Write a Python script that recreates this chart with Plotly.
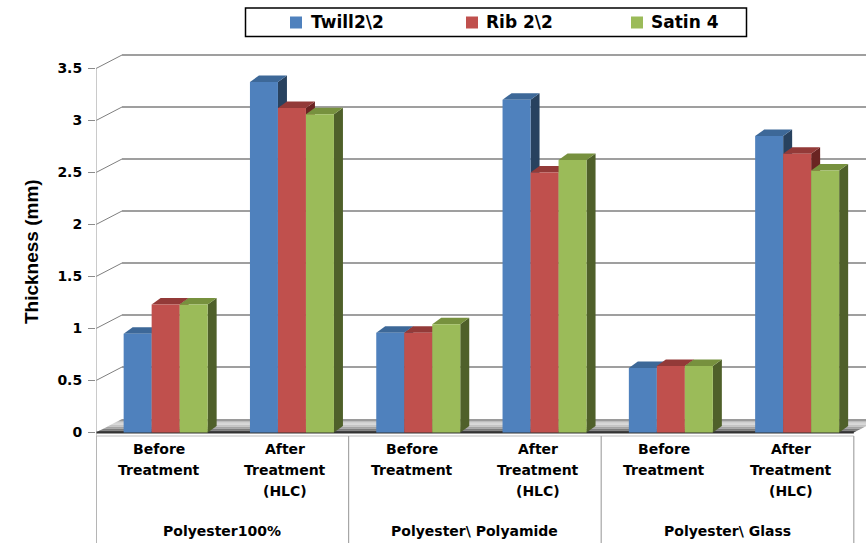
import plotly.graph_objects as go

# ---- data -------------------------------------------------------------
categories = ["Before\nTreatment", "After\nTreatment\n(HLC)"] * 3
groups = ["Polyester100%", "Polyester\\ Polyamide", "Polyester\\ Glass"]
series_names = ["Twill2\\2", "Rib 2\\2", "Satin 4"]
twill = [0.95, 3.37, 0.96, 3.20, 0.62, 2.85]
rib = [1.23, 3.12, 0.96, 2.50, 0.64, 2.68]
satin = [1.23, 3.06, 1.04, 2.62, 0.64, 2.52]
y_ticks = [0, 0.5, 1, 1.5, 2, 2.5, 3, 3.5]

# ---- styling ----------------------------------------------------------
front_cols = ["#4F81BD", "#C0504D", "#9BBB59"]
top_cols = ["#3D6898", "#933A38", "#77913E"]
side_cols = ["#28425F", "#6A2422", "#4F602A"]

W_PX, H_PX = 866, 543
LEFT = 96              # pixel position of the front value axis
BASE_PX = 432.5        # pixel row of value 0
XS = 126.3             # pixels per category slot
YS = 104.0             # pixels per value unit

def dx(px):
    return px / XS

def dy(px):
    return px / YS

def paper_x(px):
    return (px - LEFT) / (W_PX - LEFT)

def paper_y(py):
    return 1 - py / H_PX

WALL_DX, WALL_DY = dx(26), dy(13.5)     # depth of the chart box
BAR_DX, BAR_DY = dx(9), dy(6.5)         # depth of each column
BAR_W = dx(28)
SHIFT = dx(6.5)

x_lo = -0.5
x_hi = x_lo + (W_PX - LEFT) / XS
y_lo = (BASE_PX - H_PX) / YS
y_hi = BASE_PX / YS
n_cat = len(categories)

fig = go.Figure()
shapes = []

def poly(points, fill, line_color=None, width=0):
    path = "M " + " L ".join(f"{x:.5f},{y:.5f}" for x, y in points) + " Z"
    return dict(type="path", path=path, xref="x", yref="y",
                fillcolor=fill, line=dict(color=line_color or fill, width=width),
                layer="below")

def seg(x0, y0, x1, y1, color, width):
    return dict(type="line", x0=x0, y0=y0, x1=x1, y1=y1, xref="x", yref="y",
                line=dict(color=color, width=width), layer="below")

# back wall grid lines and the slanted side-wall lines
for v in y_ticks[1:]:
    shapes.append(seg(x_lo + WALL_DX, v + WALL_DY, x_hi, v + WALL_DY, "#7f7f7f", 1.5))
    shapes.append(seg(x_lo, v, x_lo + WALL_DX, v + WALL_DY, "#7f7f7f", 1))

# floor, shaded in bands from back to front
floor_cols = ["#9a9a9a", "#bdbdbd", "#d6d6d6", "#c4c4c4", "#a4a4a4", "#7c7c7c", "#505050"]
nb = len(floor_cols)
x_end = x_lo + n_cat
for j, c in enumerate(floor_cols):
    f0 = 1 - j / nb
    f1 = 1 - (j + 1) / nb
    shapes.append(poly([(x_lo + f0 * WALL_DX, f0 * WALL_DY), (x_end + f0 * WALL_DX, f0 * WALL_DY),
                        (x_end + f1 * WALL_DX, f1 * WALL_DY), (x_lo + f1 * WALL_DX, f1 * WALL_DY)], c))
shapes.append(seg(x_lo, 0, x_end, 0, "#333333", 2))

# column tops and right-hand faces
series = [twill, rib, satin]
for i in range(n_cat):
    for k, vals in enumerate(series):
        h = vals[i]
        xc = i + SHIFT + (k - 1) * BAR_W
        xl, xr = xc - BAR_W / 2, xc + BAR_W / 2
        shapes.append(poly([(xr, 0), (xr, h), (xr + BAR_DX, h + BAR_DY), (xr + BAR_DX, BAR_DY)], side_cols[k]))
        shapes.append(poly([(xl, h), (xr, h), (xr + BAR_DX, h + BAR_DY), (xl + BAR_DX, h + BAR_DY)], top_cols[k]))

# value axis line and category axis box
axis_col = "#a6a6a6"
cat_line = dy(BASE_PX - 436)
shapes.append(seg(x_lo, y_ticks[-1], x_lo, y_lo, axis_col, 1.2))
shapes.append(seg(x_lo, cat_line, x_end, cat_line, "#bfbfbf", 1.2))
for g in range(len(groups) + 1):
    xg = x_lo + 2 * g
    shapes.append(seg(xg, cat_line, xg, y_lo, axis_col, 1.2))

# column front faces
for k, (name, vals) in enumerate(zip(series_names, series)):
    fig.add_trace(go.Bar(
        name=name,
        x=[i + SHIFT + (k - 1) * BAR_W for i in range(n_cat)],
        y=vals,
        width=BAR_W,
        marker=dict(color=front_cols[k], line=dict(width=0)),
        hoverinfo="skip",
        showlegend=False,
    ))

# legend box with colour keys
annotations = []
shapes.append(dict(type="rect", xref="paper", yref="paper",
                   x0=paper_x(245.5), x1=paper_x(746.5), y0=paper_y(8), y1=paper_y(36.5),
                   line=dict(color="black", width=1.5), fillcolor="white", layer="above"))
legend_key_px = [290, 466, 631]
legend_text_px = [309, 484, 649]
for k, name in enumerate(series_names):
    shapes.append(dict(type="rect", xref="paper", yref="paper",
                       x0=paper_x(legend_key_px[k]), x1=paper_x(legend_key_px[k] + 12),
                       y0=paper_y(16.5), y1=paper_y(28.5),
                       line=dict(width=0), fillcolor=front_cols[k], layer="above"))
    annotations.append(dict(x=paper_x(legend_text_px[k]), y=paper_y(22.5), xref="paper", yref="paper",
                            text=name, showarrow=False, xanchor="left", yanchor="middle",
                            font=dict(family="DejaVu Sans", size=17, color="black", weight="bold")))

# category labels, one annotation per text line
label_font = dict(family="DejaVu Sans", size=14, color="black", weight="bold")
line_rows = [449, 470, 491]
for i, lab in enumerate(categories):
    for r, part in enumerate(lab.split("\n")):
        annotations.append(dict(x=i, y=(BASE_PX - line_rows[r]) / YS, xref="x", yref="y",
                                text=part, showarrow=False, font=label_font,
                                xanchor="center", yanchor="middle"))
for g, name in enumerate(groups):
    annotations.append(dict(x=2 * g + 0.5, y=(BASE_PX - 531) / YS, xref="x", yref="y",
                            text=name, showarrow=False, font=label_font,
                            xanchor="center", yanchor="middle"))

annotations.append(dict(x=paper_x(32), y=paper_y(252), xref="paper", yref="paper",
                        text="Thickness (mm)", textangle=-90, showarrow=False,
                        font=dict(family="Liberation Sans, Arial", size=19, color="black", weight="bold"),
                        xanchor="center", yanchor="middle"))

fig.update_layout(
    width=W_PX, height=H_PX,
    margin=dict(l=LEFT, r=0, t=0, b=0),
    paper_bgcolor="white", plot_bgcolor="white",
    barmode="overlay",
    hovermode=False,
    shapes=shapes,
    annotations=annotations,
    showlegend=False,
    xaxis=dict(range=[x_lo, x_hi], visible=False, fixedrange=True),
    yaxis=dict(range=[y_lo, y_hi], tickvals=y_ticks, showgrid=False, zeroline=False,
               showline=False, ticks="outside", ticklen=7, tickcolor="#8c8c8c", tickwidth=1,
               ticklabelstandoff=3,
               tickfont=dict(family="DejaVu Sans", size=14, color="black", weight="bold"),
               fixedrange=True),
)

fig.write_html("out.html")
